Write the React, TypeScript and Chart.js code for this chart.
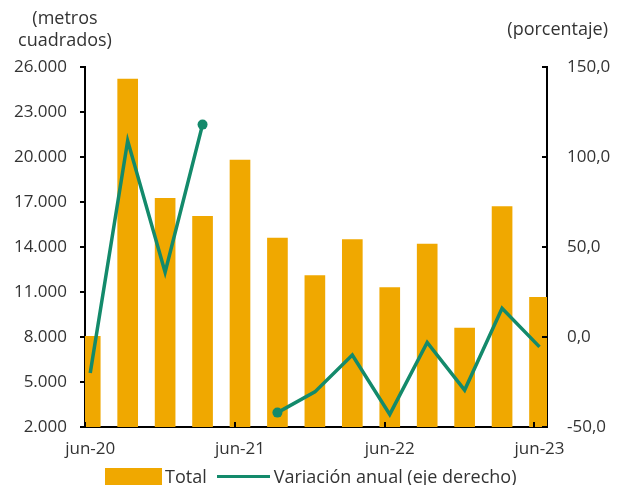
import React, { useEffect, useRef } from 'react';
import { Chart, registerables } from 'chart.js';
Chart.register(...registerables);

const categories = ['jun-20', 'sep-20', 'dic-20', 'mar-21', 'jun-21', 'sep-21', 'dic-21', 'mar-22', 'jun-22', 'sep-22', 'dic-22', 'mar-23', 'jun-23'];
const totalValues = [8050, 25200, 17250, 16050, 19800, 14600, 12100, 14500, 11300, 14200, 8600, 16700, 10650];
const variationValues: (number | null)[] = [-20, 109, 36, 118, null, -42, -30.5, -10, -43, -3, -29.5, 16, -5.5];
const xTickIndices = [0, 4, 8, 12];
const leftTickValues = [2000, 5000, 8000, 11000, 14000, 17000, 20000, 23000, 26000];
const rightTickValues = [-50, 0, 50, 100, 150];

const BAR_COLOR = '#F0A800';
const LINE_COLOR = '#138A6B';
const TEXT_COLOR = '#333333';
const FONT = '"Open Sans", sans-serif';
const X_MIN = -0.14;
const X_MAX = 12.2;

const tickMarks = {
  id: 'tickMarks',
  afterDraw(chart: any) {
    const { ctx, scales } = chart;
    const x = scales.x, yL = scales.yL, yR = scales.yR;
    ctx.save();
    ctx.strokeStyle = '#000';
    ctx.lineWidth = 2;
    ctx.beginPath();
    x.ticks.forEach((t: any) => {
      const px = Math.round(x.getPixelForValue(t.value + X_MIN));
      ctx.moveTo(px, x.top);
      ctx.lineTo(px, x.top - 5);
    });
    yL.ticks.forEach((t: any) => {
      const py = Math.round(yL.getPixelForValue(t.value));
      ctx.moveTo(yL.right, py);
      ctx.lineTo(yL.right - 5, py);
    });
    yR.ticks.forEach((t: any) => {
      const py = Math.round(yR.getPixelForValue(t.value));
      ctx.moveTo(yR.left, py);
      ctx.lineTo(yR.left - 5, py);
    });
    ctx.stroke();
    ctx.restore();
  },
};

export default function App() {
  const canvasRef = useRef<HTMLCanvasElement>(null);

  useEffect(() => {
    if (!canvasRef.current) return;
    const chart = new Chart(canvasRef.current, {
      type: 'bar',
      data: {
        datasets: [
          {
            type: 'line',
            label: 'Variación anual (eje derecho)',
            data: variationValues.map((v, i) => ({ x: i, y: v })) as any,
            yAxisID: 'yR',
            borderColor: LINE_COLOR,
            backgroundColor: LINE_COLOR,
            borderWidth: 3.5,
            tension: 0,
            spanGaps: false,
            pointRadius: (ctx: any) => {
              const i = ctx.dataIndex;
              const prev = i > 0 ? variationValues[i - 1] : 0;
              const next = i < variationValues.length - 1 ? variationValues[i + 1] : 0;
              return prev === null || next === null ? 5 : 0;
            },
            pointBorderWidth: 0,
            pointBackgroundColor: LINE_COLOR,
          } as any,
          {
            type: 'bar',
            label: 'Total',
            data: totalValues.map((v, i) => ({ x: i, y: v })) as any,
            yAxisID: 'yL',
            backgroundColor: BAR_COLOR,
            barThickness: 20,
          } as any,
        ],
      },
      options: {
        animation: false,
        responsive: true,
        maintainAspectRatio: false,
        layout: { padding: { top: 67, left: 0, right: 0, bottom: 0 } },
        plugins: { legend: { display: false }, tooltip: { enabled: false } },
        scales: {
          x: {
            type: 'linear',
            min: X_MIN,
            max: X_MAX,
            offset: false,
            grid: { display: false, drawTicks: false, offset: false },
            border: { display: true, color: '#000', width: 2 },
            afterBuildTicks: (scale: any) => {
              scale.ticks = xTickIndices.map((v) => ({ value: v }));
            },
            afterFit: (scale: any) => {
              scale.height = 58;
            },
            ticks: {
              autoSkip: false,
              maxRotation: 0,
              padding: 12,
              color: TEXT_COLOR,
              font: { family: FONT, size: 17 },
              callback: (v: any) => categories[v] ?? '',
            },
          },
          yL: {
            type: 'linear',
            position: 'left',
            min: 2000,
            max: 26000,
            grid: { display: false, drawTicks: false },
            border: { display: true, color: '#000', width: 2 },
            afterBuildTicks: (scale: any) => {
              scale.ticks = leftTickValues.map((v) => ({ value: v }));
            },
            afterFit: (scale: any) => {
              scale.width = 85;
            },
            ticks: {
              padding: 18,
              color: TEXT_COLOR,
              font: { family: FONT, size: 17 },
              callback: (v: any) => Number(v).toLocaleString('de-DE'),
            },
          },
          yR: {
            type: 'linear',
            position: 'right',
            min: -50,
            max: 150,
            grid: { display: false, drawTicks: false },
            border: { display: true, color: '#000', width: 2 },
            afterBuildTicks: (scale: any) => {
              scale.ticks = rightTickValues.map((v) => ({ value: v }));
            },
            afterFit: (scale: any) => {
              scale.width = 72;
            },
            ticks: {
              padding: 20,
              color: TEXT_COLOR,
              font: { family: FONT, size: 17 },
              callback: (v: any) => Number(v).toFixed(1).replace('.', ','),
            },
          },
        },
      },
      plugins: [tickMarks],
    });
    return () => chart.destroy();
  }, []);

  return (
    <div style={{ position: 'fixed', left: 0, top: 0, width: 619, height: 485, background: '#fff', overflow: 'hidden' }}>
      <canvas ref={canvasRef} />
      <div style={{ position: 'absolute', left: 0, top: 6, width: 130, textAlign: 'center', font: `18px ${FONT}`, lineHeight: '22px', color: TEXT_COLOR }}>
        (metros<br />cuadrados)
      </div>
      <div style={{ position: 'absolute', right: 11, top: 17, font: `18px ${FONT}`, lineHeight: '22px', color: TEXT_COLOR }}>
        (porcentaje)
      </div>
      <div style={{ position: 'absolute', left: 105, top: 466, height: 20, display: 'flex', alignItems: 'center', font: `18px ${FONT}`, color: TEXT_COLOR, whiteSpace: 'nowrap' }}>
        <span style={{ display: 'inline-block', width: 57, height: 17, background: BAR_COLOR, marginRight: 3 }} />
        <span>Total</span>
        <span style={{ display: 'inline-block', width: 53, height: 3, background: LINE_COLOR, margin: '0 4px 0 10px' }} />
        <span>Variación anual (eje derecho)</span>
      </div>
    </div>
  );
}
